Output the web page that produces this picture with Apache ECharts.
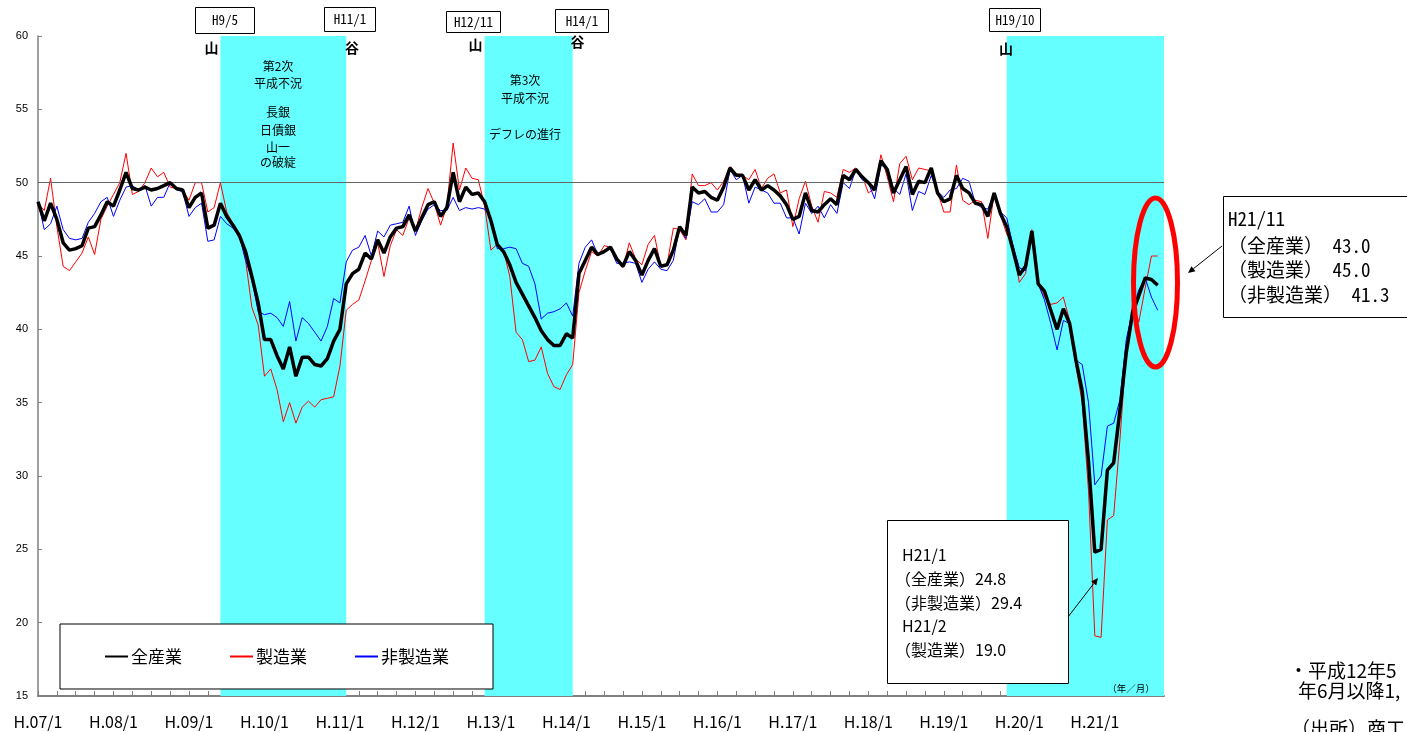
<!DOCTYPE html>
<html lang="ja">
<head>
<meta charset="utf-8">
<title>業況判断指数の推移</title>
<script src="https://cdn.jsdelivr.net/npm/echarts@6.0.0/dist/echarts.min.js"></script>
<style>
html, body { margin: 0; padding: 0; background: #fff; }
#chart { width: 1407px; height: 732px; }
</style>
</head>
<body>
<div id="chart"></div>
<script>
// ---- data -------------------------------------------------------------
// monthly categories, H.07/1 (1995/1) .. H.21/12 (2009/12)
const months = [];
for (let y = 7; y <= 21; y++) {
  for (let m = 1; m <= 12; m++) months.push('H.' + String(y).padStart(2, '0') + '/' + m);
}

const seriesNames = ['全産業', '製造業', '非製造業'];

// 全産業
const allIndustries = [
  48.7, 47.4, 48.6, 47.5, 45.9, 45.4, 45.5, 45.7, 46.9, 47.0,
  47.8, 48.7, 48.4, 49.5, 50.7, 49.6, 49.5, 49.7, 49.5, 49.6,
  49.8, 50.0, 49.6, 49.5, 48.3, 49.0, 49.3, 46.9, 47.1, 48.6,
  47.7, 47.1, 46.4, 45.3, 43.6, 41.8, 39.3, 39.3, 38.2, 37.3,
  38.8, 36.8, 38.1, 38.1, 37.6, 37.5, 38.0, 39.2, 40.0, 43.1,
  43.8, 44.1, 45.2, 44.8, 46.1, 45.2, 46.3, 46.9, 47.0, 47.8,
  46.7, 47.6, 48.5, 48.7, 47.7, 48.3, 50.7, 48.7, 49.7, 49.2,
  49.3, 48.7, 47.4, 45.8, 45.3, 44.4, 43.2, 42.4, 41.6, 40.8,
  39.9, 39.3, 38.9, 38.9, 39.7, 39.4, 43.8, 44.7, 45.6, 45.1,
  45.3, 45.6, 44.8, 44.3, 45.3, 44.7, 43.7, 44.7, 45.5, 44.3,
  44.4, 45.4, 47.0, 46.4, 49.7, 49.3, 49.4, 49.0, 48.8, 49.7,
  51.0, 50.5, 50.5, 49.5, 50.2, 49.5, 49.8, 49.5, 49.1, 48.5,
  47.5, 47.7, 49.3, 48.1, 48.0, 48.5, 48.9, 48.5, 50.5, 50.2,
  50.9, 50.4, 50.0, 49.5, 51.5, 50.9, 49.3, 50.2, 51.1, 49.2,
  50.1, 50.0, 51.0, 49.3, 48.7, 48.9, 50.5, 49.6, 49.3, 48.6,
  48.5, 47.7, 49.3, 47.9, 47.0, 45.4, 43.7, 44.3, 46.7, 43.1,
  42.6, 41.3, 40.0, 41.4, 40.4, 37.9, 35.8, 31.0, 24.8, 25.0,
  30.4, 30.9, 34.5, 38.4, 41.1, 42.3, 43.5, 43.4, 43.0
];

// 製造業
const manufacturing = [
  48.6, 48.1, 50.3, 47.0, 44.3, 44.0, 44.6, 45.2, 46.3, 45.1,
  47.5, 48.4, 49.2, 50.0, 52.0, 49.2, 49.4, 50.0, 51.0, 50.4,
  50.7, 49.7, 49.6, 49.5, 48.8, 50.0, 50.0, 48.0, 48.3, 50.0,
  48.0, 47.2, 46.5, 44.7, 41.5, 40.3, 36.8, 37.3, 35.9, 33.7,
  35.0, 33.6, 34.7, 35.1, 34.7, 35.2, 35.3, 35.4, 37.5, 41.3,
  41.7, 42.0, 43.3, 44.7, 45.9, 43.6, 45.7, 46.8, 46.4, 47.6,
  46.7, 48.3, 49.6, 48.6, 47.1, 48.4, 52.7, 49.5, 51.0, 50.3,
  50.2, 48.4, 45.4, 45.8, 45.4, 43.6, 39.8, 39.3, 37.8, 37.9,
  38.8, 37.0, 36.1, 35.9, 36.9, 37.6, 42.5, 44.0, 45.3, 45.0,
  45.7, 45.6, 44.7, 44.2, 45.9, 44.8, 44.4, 45.8, 46.4, 44.3,
  44.4, 46.9, 46.8, 46.1, 50.6, 49.8, 49.8, 50.0, 49.5, 50.1,
  51.1, 50.6, 50.5, 50.2, 50.9, 49.6, 50.3, 50.6, 49.3, 49.5,
  47.0, 48.9, 50.1, 48.4, 47.3, 49.4, 49.3, 49.0, 50.9, 50.7,
  51.0, 50.5, 49.3, 49.6, 51.9, 50.4, 48.7, 51.3, 51.8, 50.2,
  51.0, 50.9, 50.8, 49.4, 48.0, 48.0, 51.2, 48.8, 48.5, 48.8,
  48.7, 46.2, 49.3, 47.8, 46.5, 45.7, 43.2, 43.8, 46.8, 43.1,
  42.2, 41.7, 41.8, 42.2, 40.6, 37.5, 35.0, 29.0, 19.1, 19.0,
  27.0, 27.3, 32.5, 38.5, 41.8, 40.5, 42.8, 45.0, 45.0
];

// 非製造業
const nonManufacturing = [
  48.7, 46.8, 47.2, 48.4, 46.8, 46.2, 46.1, 46.2, 47.3, 47.9,
  48.7, 49.0, 47.7, 48.8, 49.7, 49.8, 49.5, 49.8, 48.4, 49.0,
  49.0, 50.0, 49.5, 49.4, 47.7, 48.3, 48.6, 46.0, 46.1, 47.7,
  47.2, 46.9, 46.4, 44.7, 43.4, 41.2, 41.0, 41.1, 40.8, 40.2,
  41.9, 39.2, 40.8, 40.4, 39.8, 39.2, 40.2, 42.1, 41.8, 44.6,
  45.4, 45.6, 46.4, 45.0, 46.7, 46.3, 47.1, 47.2, 47.3, 48.4,
  46.4, 47.4, 48.2, 48.5, 48.1, 48.1, 49.0, 48.1, 48.3, 48.2,
  48.3, 48.2, 47.6, 45.5, 45.5, 45.6, 45.5, 44.5, 44.3, 43.1,
  40.7, 41.1, 41.2, 41.4, 41.8, 40.9, 44.5, 45.6, 46.1, 45.1,
  45.4, 45.5, 44.5, 44.5, 44.6, 44.5, 43.2, 44.1, 44.6, 44.1,
  44.0, 44.7, 47.0, 46.2, 48.7, 48.5, 48.9, 48.0, 48.0, 48.5,
  50.9, 50.2, 50.5, 48.6, 49.7, 49.5, 49.3, 48.6, 48.6, 47.6,
  47.6, 46.5, 48.6, 47.9, 48.4, 47.6, 48.5, 47.9, 50.0, 49.6,
  50.9, 50.2, 50.0, 48.9, 51.2, 51.0, 49.6, 49.2, 50.6, 48.1,
  49.4, 49.2, 50.5, 49.4, 49.0, 49.5, 49.6, 50.3, 50.1, 48.6,
  48.3, 48.2, 49.3, 48.0, 47.6, 45.7, 44.2, 44.0, 46.7, 43.1,
  42.0, 40.4, 38.6, 40.6, 40.4, 37.9, 37.6, 35.0, 29.4, 30.0,
  33.4, 33.6, 35.2, 39.3, 41.3, 42.7, 43.5, 42.2, 41.3
];

// y scale: min, max, step
const yMin = 15, yMax = 60, yStep = 5;
const referenceLevel = 50;

// shaded recession spans, as indices into months
const recessionSpans = [[29, 49], [71, 85], [154, 179]];
const recessionNotes = [
  ['第2次', '平成不況', '長銀', '日債銀', '山一', 'の破綻'],
  ['第3次', '平成不況', 'デフレの進行']
];

// business-cycle turning points
const turnLabels = ['H9/5', 'H11/1', 'H12/11', 'H14/1', 'H19/10'];
const turnKinds = ['山', '谷', '山', '谷', '山'];

// indices of the highlighted months
const lastIdx = allIndustries.length - 1;   // H21/11
const troughIdx = 168;                      // H21/1
const mfgTroughIdx = 169;                   // H21/2

const footNotes = ['・平成12年5', '年6月以降1,', '（出所）商工'];

// ---- layout -----------------------------------------------------------
const JP = "'Noto Sans CJK JP', sans-serif";
const JP_MONO = "'Noto Sans Mono CJK JP', 'Noto Sans CJK JP', monospace";
const GRID = { left: 38, right: 243, top: 36, bottom: 36 };

const turnBoxes = [[195, 7, 59, 26], [324, 7, 51, 24], [446, 11, 54, 21], [555, 9, 53, 23], [989, 8, 51, 23]];
const turnKindPos = [[211.5, 48], [352, 48], [475.5, 45], [577.5, 42], [1006, 49]];
const notePos = [
  { x: 278, ys: [66, 83.5, 112, 130, 147, 162] },
  { x: 525, ys: [80, 98, 134] }
];

const shortLabel = i => months[i].replace('.', '');
const graphics = [];

function text(x, y, str, opt) {
  graphics.push({
    type: 'text', x: x, y: y, z: 20, silent: true,
    style: Object.assign({
      text: str, fill: '#000', fontSize: 12, fontFamily: JP,
      align: 'center', verticalAlign: 'middle'
    }, opt || {})
  });
}
function box(x, y, w, h, lw) {
  graphics.push({
    type: 'rect', z: 15, silent: true,
    shape: { x: x + 0.5, y: y + 0.5, width: w, height: h },
    style: { fill: '#fff', stroke: '#000', lineWidth: lw || 1 }
  });
}
function arrow(x1, y1, x2, y2) {
  const dx = x2 - x1, dy = y2 - y1, len = Math.hypot(dx, dy);
  const ux = dx / len, uy = dy / len, hl = 7, hw = 3.2;
  const bx = x2 - ux * hl, by = y2 - uy * hl;
  graphics.push({
    type: 'line', z: 16, silent: true,
    shape: { x1: x1, y1: y1, x2: bx, y2: by },
    style: { stroke: '#000', lineWidth: 1 }
  });
  graphics.push({
    type: 'polygon', z: 16, silent: true,
    shape: { points: [[x2, y2], [bx - uy * hw, by + ux * hw], [bx + uy * hw, by - ux * hw]] },
    style: { fill: '#000' }
  });
}

// turning-point boxes and 山 / 谷 marks
turnLabels.forEach((t, i) => {
  const [x, y, w, h] = turnBoxes[i];
  box(x, y, w, h, 1);
  text(x + w / 2 + 0.5, y + h / 2 + 0.5, t, { fontSize: 13, fontFamily: JP_MONO });
  text(turnKindPos[i][0], turnKindPos[i][1], turnKinds[i], { fontSize: 14, fontWeight: 'bold' });
});

// notes inside the shaded spans
recessionNotes.forEach((lines, k) => {
  lines.forEach((s, j) => text(notePos[k].x, notePos[k].ys[j], s, { fontSize: 12 }));
});

// latest-month callout
box(1223, 196, 260, 121, 1);
text(1228, 219, shortLabel(lastIdx), { align: 'left', fontSize: 19, fontFamily: JP_MONO });
text(1228, 246, '（' + seriesNames[0] + '） ' + allIndustries[lastIdx].toFixed(1), { align: 'left', fontSize: 19, fontFamily: JP_MONO });
text(1228, 270, '（' + seriesNames[1] + '） ' + manufacturing[lastIdx].toFixed(1), { align: 'left', fontSize: 19, fontFamily: JP_MONO });
text(1228, 294.5, '（' + seriesNames[2] + '） ' + nonManufacturing[lastIdx].toFixed(1), { align: 'left', fontSize: 19, fontFamily: JP_MONO });
arrow(1222, 246, 1188, 273);

// red ring around the latest months
graphics.push({
  type: 'ellipse', z: 17, silent: true,
  shape: { cx: 1155.5, cy: 282.5, rx: 22, ry: 84.5 },
  style: { fill: 'transparent', stroke: '#FF0000', lineWidth: 5 }
});

// trough callout
box(887, 520, 181, 163, 1);
text(902, 555, shortLabel(troughIdx), { align: 'left', fontSize: 16 });
text(895, 578.5, '（' + seriesNames[0] + '）' + allIndustries[troughIdx].toFixed(1), { align: 'left', fontSize: 16 });
text(895, 602.5, '（' + seriesNames[2] + '）' + nonManufacturing[troughIdx].toFixed(1), { align: 'left', fontSize: 16 });
text(902, 626, shortLabel(mfgTroughIdx), { align: 'left', fontSize: 16 });
text(895, 650, '（' + seriesNames[1] + '）' + manufacturing[mfgTroughIdx].toFixed(1), { align: 'left', fontSize: 16 });
arrow(1068, 617, 1098, 578);

// axis unit and footnotes
text(1131, 688, '（年／月）', { fontSize: 9.5 });
text(1289, 671, footNotes[0], { align: 'left', fontSize: 19 });
text(1298, 691, footNotes[1], { align: 'left', fontSize: 19 });
text(1291, 729, footNotes[2], { align: 'left', fontSize: 19 });

// ---- chart ------------------------------------------------------------
const chart = echarts.init(document.getElementById('chart'), null, { renderer: 'canvas' });

chart.setOption({
  animation: false,
  backgroundColor: '#fff',
  textStyle: { fontFamily: JP },
  grid: Object.assign({ containLabel: false }, GRID),
  legend: {
    data: seriesNames,
    left: 60, top: 624,
    padding: [24, 44],
    itemGap: 47,
    itemWidth: 23,
    itemHeight: 12,
    backgroundColor: '#fff',
    borderColor: '#000',
    borderWidth: 1,
    selectedMode: false,
    itemStyle: { opacity: 0 },
    textStyle: { fontSize: 17, color: '#000', fontFamily: JP, padding: [0, 0, 0, -2] }
  },
  xAxis: {
    type: 'category',
    data: months,
    boundaryGap: false,
    axisLine: { lineStyle: { color: '#808080', width: 2 } },
    axisTick: {
      show: true, inside: true, length: 5,
      interval: i => i % 3 === 0,
      lineStyle: { color: '#808080', width: 1 }
    },
    axisLabel: {
      interval: i => i % 12 === 0,
      color: '#000', fontSize: 16, margin: 18, fontFamily: JP
    },
    splitLine: { show: false }
  },
  yAxis: {
    type: 'value',
    min: yMin, max: yMax, interval: yStep,
    axisLine: { show: true, lineStyle: { color: '#808080', width: 1.5 } },
    axisTick: { show: true, inside: true, length: 4, lineStyle: { color: '#808080' } },
    axisLabel: { color: '#000', fontSize: 11, margin: 10, fontFamily: "'Liberation Sans', sans-serif" },
    splitLine: { show: false }
  },
  graphic: graphics,
  series: [
    {
      name: seriesNames[1], type: 'line', data: manufacturing,
      symbol: 'none', z: 3,
      lineStyle: { color: '#FF0000', width: 1 },
      itemStyle: { color: '#FF0000' },
      markArea: {
        silent: true,
        itemStyle: { color: '#66FFFF' },
        data: recessionSpans.map(([a, b]) => [{ xAxis: months[a] }, { xAxis: months[b] }])
      },
      markLine: {
        silent: true, symbol: 'none',
        label: { show: false },
        lineStyle: { color: '#666', width: 1.2, type: 'solid' },
        data: [{ yAxis: referenceLevel }]
      }
    },
    {
      name: seriesNames[2], type: 'line', data: nonManufacturing,
      symbol: 'none', z: 4,
      lineStyle: { color: '#0000FF', width: 1 },
      itemStyle: { color: '#0000FF' }
    },
    {
      name: seriesNames[0], type: 'line', data: allIndustries,
      symbol: 'none', z: 5,
      lineStyle: { color: '#000', width: 3.5 },
      itemStyle: { color: '#000' }
    }
  ]
});
</script>
</body>
</html>
